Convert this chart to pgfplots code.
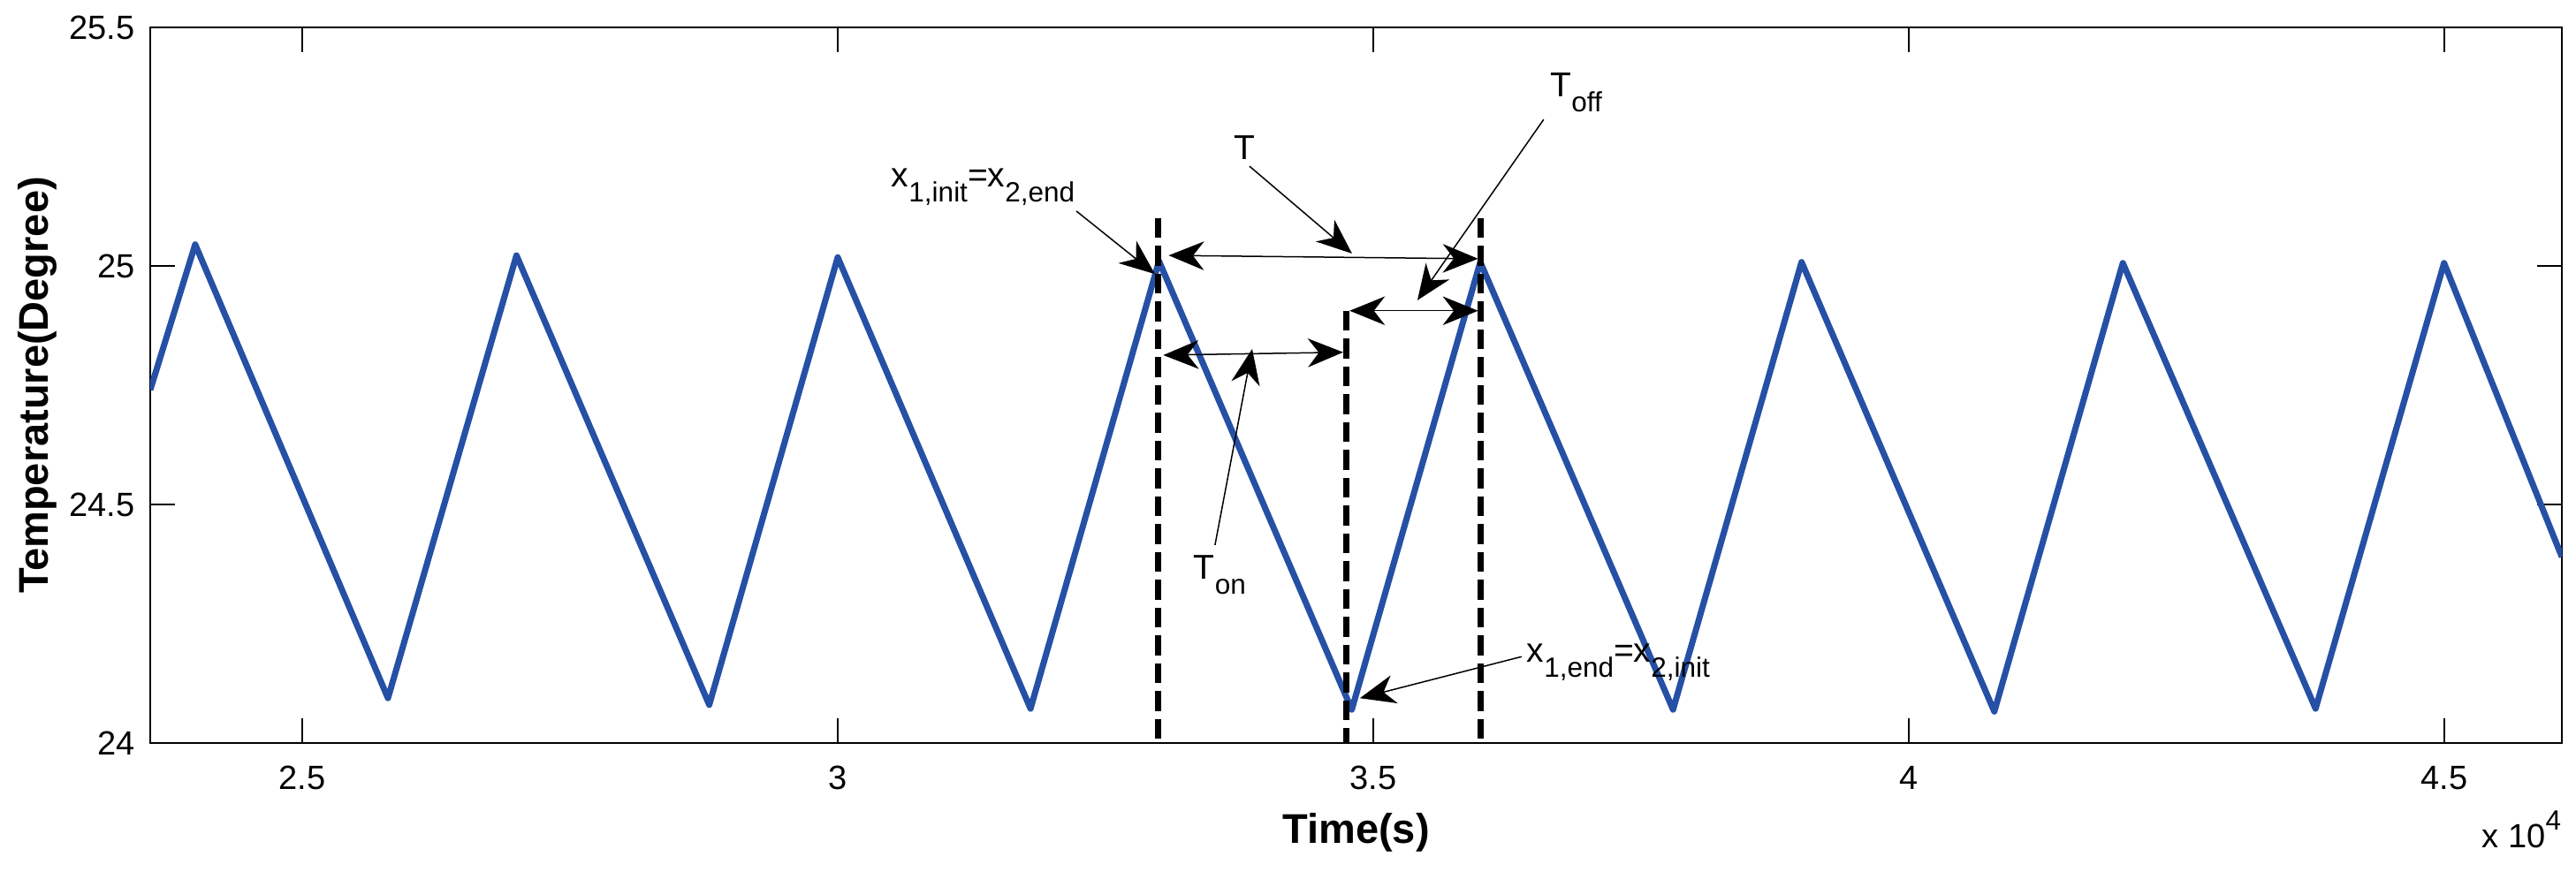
\documentclass[border=0pt]{standalone}
\usepackage{fontspec}
\setmainfont{Liberation Sans}
\usepackage{pgfplots}
\pgfplotsset{compat=1.18}
\usetikzlibrary{arrows.meta}

\definecolor{lineblue}{RGB}{38,80,165}
\newcommand\sub[1]{\raisebox{-3.4pt}{\fontsize{6.3}{7}\selectfont #1}}

\begin{document}
\begin{tikzpicture}
  \begin{axis}[%
    scale only axis,
    width=545.8pt, height=162pt,
    /pgf/number format/assume math mode=true,
    every tick label/.append style={font=\fontsize{7.6}{9}\selectfont},
    axis line style={line width=0.4pt},
    tick style={black, line width=0.4pt},
    tick align=inside,
    major tick length=5.6pt,
    % x-axis
    xmin=2.358, xmax=4.61,
    xtick={2.5,3,3.5,4,4.5},
    xticklabels={2.5,3,3.5,4,4.5},
    xticklabel style={yshift=-1.7pt},
    % y-axis
    ymin=24, ymax=25.5,
    ytick={24,24.5,25,25.5},
    yticklabels={24,24.5,25,25.5},
    xlabel={\fontsize{9.4}{11}\selectfont\bfseries Time(s)},
    xlabel style={at={(rel axis cs:0.5,0)}, anchor=base, inner sep=0pt, yshift=-22.8pt},
    ylabel={\fontsize{9.4}{11}\selectfont\bfseries Temperature(Degree)},
    ylabel style={at={([xshift=-21pt]rel axis cs:0,0.5)}, anchor=south, inner sep=0pt},
    ]

    % temperature (time in units of 10^4 s)
    \addplot[color=lineblue, line width=1.4pt, line join=round] coordinates {
      (2.358, 24.74)
      (2.40, 25.045)
      (2.58, 24.094)
      (2.70, 25.022)
      (2.88, 24.080)
      (3.00, 25.018)
      (3.18, 24.072)
      (3.30, 25.010)
      (3.48, 24.070)
      (3.60, 25.008)
      (3.78, 24.070)
      (3.90, 25.008)
      (4.08, 24.066)
      (4.20, 25.006)
      (4.38, 24.072)
      (4.50, 25.006)
      (4.61, 24.39)
    };

    % switching instants
    \addplot[black, line width=1.4pt, dash pattern=on 4.5pt off 1.8pt] coordinates {(3.299,25.10) (3.299,23.99)};
    \addplot[black, line width=1.4pt, dash pattern=on 4.5pt off 1.8pt] coordinates {(3.475,24.906) (3.475,23.99)};
    \addplot[black, line width=1.4pt, dash pattern=on 4.5pt off 1.8pt] coordinates {(3.600,25.10) (3.600,23.99)};

    \tikzset{ann/.style={line width=0.3pt, -{Stealth[length=8pt, width=6.5pt, inset=2.5pt]}},
             dbl/.style={line width=0.3pt, {Stealth[length=8pt, width=6.5pt, inset=2.5pt]}-{Stealth[length=8pt, width=6.5pt, inset=2.5pt]}},
             lbl/.style={anchor=base west, inner sep=0pt, font=\fontsize{7.8}{9}\selectfont}}

    % double arrows
    \draw[dbl] (axis cs:3.309,25.022) -- (axis cs:3.598,25.015);
    \draw[dbl] (axis cs:3.478,24.906) -- (axis cs:3.598,24.906);
    \draw[dbl] (axis cs:3.304,24.813) -- (axis cs:3.472,24.819);

    % leaders
    \draw[ann] (axis cs:3.2228,25.115) -- (axis cs:3.2962,24.983);
    \draw[ann] (axis cs:3.3845,25.209) -- (axis cs:3.4802,25.026);
    \draw[ann] (axis cs:3.6592,25.307) -- (axis cs:3.5413,24.928);
    \draw[ann] (axis cs:3.3523,24.415) -- (axis cs:3.3870,24.826);
    \draw[ann] (axis cs:3.6386,24.181) -- (axis cs:3.4876,24.094);

    % labels
    \node[lbl] at (axis cs:3.0495,25.165) {x\sub{1,init}=x\sub{2,end}};
    \node[lbl] at (axis cs:3.3696,25.224) {T};
    \node[lbl] at (axis cs:3.6647,25.354) {T\sub{off}};
    \node[lbl] at (axis cs:3.3317,24.344) {T\sub{on}};
    \node[lbl] at (axis cs:3.6427,24.169) {x\sub{1,end}=x\sub{2,init}};
  \end{axis}
  \node[anchor=base east, inner sep=0pt, font=\fontsize{7.6}{9}\selectfont]
    at ([yshift=-23.8pt]current axis.south east) {x 10\raisebox{4pt}{\fontsize{6.3}{7}\selectfont 4}};
  \pgfresetboundingbox
  \path[use as bounding box] ([xshift=-34pt, yshift=-29.2pt]current axis.south west)
    rectangle ([xshift=3.2pt, yshift=6.2pt]current axis.north east);
\end{tikzpicture}
\end{document}
